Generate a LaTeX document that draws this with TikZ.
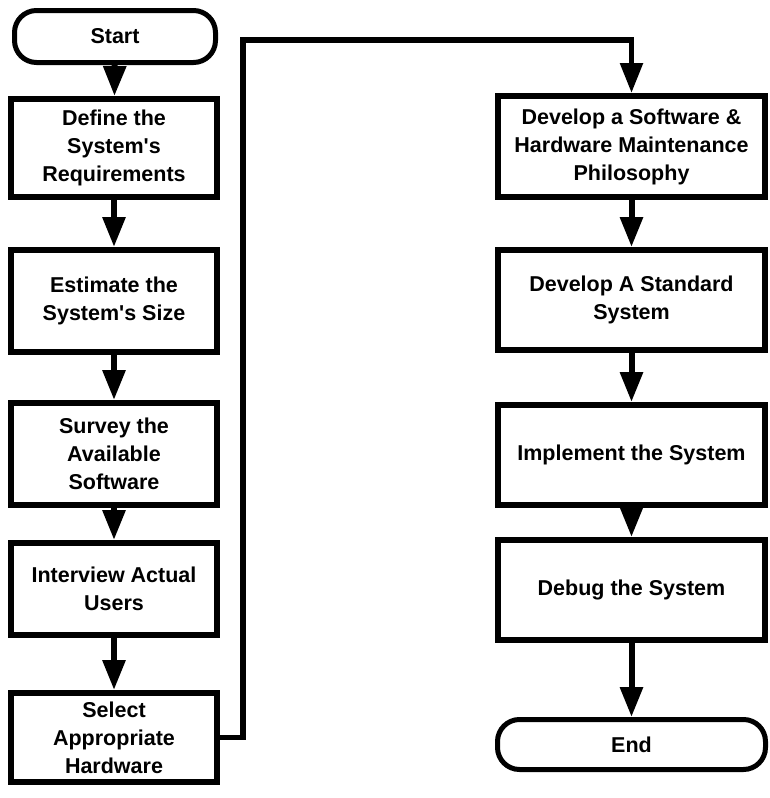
\documentclass[tikz,border=0pt]{standalone}
\usepackage{fontspec}
\setmainfont{Liberation Sans}[Ligatures=TeXOff]
\usetikzlibrary{arrows.meta}
\tikzset{
  stepbox/.style={draw=black, line width=6pt, fill=white, align=center, inner sep=0pt,
    font=\fontsize{21.5}{28}\selectfont\bfseries},
  leftbox/.style={stepbox, minimum width=206pt},
  rightbox/.style={stepbox, minimum width=267pt},
  term/.style={draw=black, line width=5pt, fill=white, rounded corners=22pt, inner sep=0pt,
    font=\fontsize{21.5}{28}\selectfont\bfseries},
  flow/.style={line width=6pt, -{Triangle[width=22pt,length=30pt]}},
  link/.style={line width=5.5pt, -{Triangle[width=22pt,length=30pt]}}
}
\begin{document}
\begin{tikzpicture}[x=1pt,y=-1pt]
\useasboundingbox[fill=white] (0,0) rectangle (770,798);
% left column
\node[term, minimum width=201pt, minimum height=52pt] (start) at (115,36.5) {Start};
\node[leftbox, minimum height=98pt] (define) at (114,148) {Define the\\System's\\Requirements};
\node[leftbox, minimum height=102pt] (estimate) at (114,301) {Estimate the\\System's Size};
\node[leftbox, minimum height=102pt] (survey) at (114,454) {Survey the\\Available\\Software};
\node[leftbox, minimum height=92pt] (interview) at (114,589) {Interview Actual\\Users};
\node[leftbox, minimum height=89pt] (select) at (114,737.5) {Select\\Appropriate\\Hardware};
% right column
\node[rightbox, minimum height=101pt] (soft) at (631.5,146.5) {Develop a Software \&\\Hardware Maintenance\\Philosophy};
\node[rightbox, minimum height=100pt] (standard) at (631.5,300) {Develop A Standard\\System};
\node[rightbox, minimum height=100pt] (implement) at (631.5,455) {Implement the System};
\node[rightbox, minimum height=100pt] (debug) at (631.5,590) {Debug the System};
\node[term, minimum width=268pt, minimum height=50pt] (end) at (631.5,744.5) {End};
\coordinate (up) at (243,40);
% connectors
\draw[flow] (start) -- (define);
\draw[flow] (define) -- (estimate);
\draw[flow] (estimate) -- (survey);
\draw[flow] (survey) -- (interview);
\draw[flow] (interview) -- (select);
\draw[link] (select.east) -| (up) -| (soft.north);
\draw[flow] (soft) -- (standard);
\draw[flow] (standard) -- (implement);
\draw[flow] (implement) -- (debug);
\draw[flow] (debug) -- (end);
\end{tikzpicture}
\end{document}
